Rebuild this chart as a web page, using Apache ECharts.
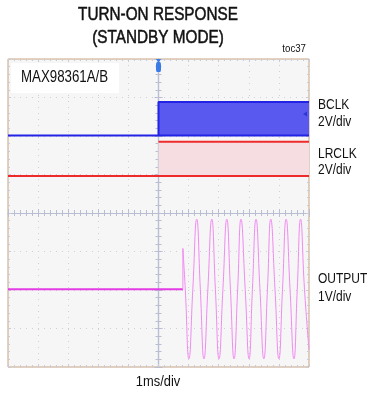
<!DOCTYPE html>
<html><head><meta charset="utf-8">
<script src="https://cdn.jsdelivr.net/npm/echarts@6/dist/echarts.min.js"></script>
<style>html,body{margin:0;padding:0;background:#fff}#c{width:367px;height:394px}</style>
</head><body><div id="c"></div>
<script>
// Scope screen: 10 horizontal divisions (1 ms/div), 8 vertical divisions; coordinates relative to screen centre
const FONT = "'Liberation Sans',Arial,sans-serif";
const xRange = [-5, 5];
const yRange = [-4, 4];

// BCLK (2V/div): idle low, then clock toggling (drawn as a filled band)
const bclkEdge = 0;
const bclkLow = 2.01;
const bclkHigh = 2.88;
// LRCLK (2V/div)
const lrclkEdge = 0;
const lrclkLow = 0.96;
const lrclkHigh = 1.85;
// OUTPUT (1V/div): flat until start, then sine
const outFlatX = [-5, 0.81];
const outFlatY = [-1.98, -1.98];
const outJumpY = -0.92;
const sineX = [0.81, 0.89, 1.01, 1.14, 1.27, 1.39, 1.51, 1.64, 1.77, 1.89, 2.01, 2.14, 2.27, 2.39, 2.51, 2.63, 2.74, 2.88, 3.01, 3.12, 3.24, 3.37, 3.50, 3.62, 3.73, 3.87, 4.00, 4.12, 4.24, 4.37, 4.50, 4.61, 4.72, 4.85, 5.00];
const sineY = [-0.92, -1.98, -3.79, -1.98, -0.16, -1.98, -3.79, -1.98, -0.16, -1.98, -3.79, -1.98, -0.16, -1.98, -3.79, -1.98, -0.16, -1.98, -3.79, -1.98, -0.16, -1.98, -3.79, -1.98, -0.16, -1.98, -3.79, -1.98, -0.16, -1.98, -3.79, -1.98, -0.16, -1.98, -3.55];

const zip = (a, b) => a.map((v, i) => [v, b[i]]);

const chart = echarts.init(document.getElementById('c'), null, {renderer: 'canvas'});
const gridRect = {left: 8, top: 59, width: 301, height: 308};
const tickColor = '#c9cbd6';
const centerColor = '#b9bed3';

function edgeAxis(pos, isX) {
  return {
    type: 'value', gridIndex: 0, position: pos,
    min: isX ? xRange[0] : yRange[0], max: isX ? xRange[1] : yRange[1], interval: 1,
    axisLine: {show: false, onZero: false},
    axisTick: {show: true, inside: true, length: 3, lineStyle: {color: tickColor}},
    minorTick: {show: true, splitNumber: 5, length: 2, lineStyle: {color: tickColor}},
    axisLabel: {show: false},
    splitLine: {show: pos === 'bottom' || pos === 'left', lineStyle: {color: '#cfd0d6', type: [1, 5], width: 1}}
  };
}
function centerAxis(pos, isX) {
  return {
    type: 'value', gridIndex: 1, position: pos,
    min: isX ? xRange[0] : yRange[0], max: isX ? xRange[1] : yRange[1], interval: 1,
    axisLine: {show: true, onZero: true, lineStyle: {color: centerColor, width: 1.2}},
    axisTick: {show: true, inside: true, length: 4, lineStyle: {color: centerColor}},
    minorTick: {show: true, splitNumber: 5, length: 3, lineStyle: {color: centerColor}},
    axisLabel: {show: false},
    splitLine: {show: false}
  };
}
function label(text, x, y, size, sx, align, strokeW) {
  const style = {text: text, font: size + 'px ' + FONT, fill: '#111', textAlign: align || 'left', textVerticalAlign: 'middle'};
  if (strokeW) { style.stroke = '#111'; style.lineWidth = strokeW; }
  return {type: 'text', x: x, y: y, scaleX: sx, z: 11, style: style};
}

const option = {
  animation: false,
  backgroundColor: '#ffffff',
  grid: [
    Object.assign({show: true, backgroundColor: '#f6f6f6', borderColor: '#c9a27f', borderWidth: 1}, gridRect),
    Object.assign({show: false}, gridRect)
  ],
  xAxis: [edgeAxis('bottom', true), edgeAxis('top', true), centerAxis('bottom', true), centerAxis('top', true)],
  yAxis: [edgeAxis('left', false), edgeAxis('right', false), centerAxis('left', false), centerAxis('right', false)],
  series: [
    {
      name: 'BCLK', type: 'line', xAxisIndex: 0, yAxisIndex: 0, symbol: 'none', z: 5,
      lineStyle: {color: '#2323e6', width: 2},
      data: [[xRange[0], bclkLow], [bclkEdge, bclkLow], [bclkEdge, bclkHigh], [xRange[1], bclkHigh]],
      markArea: {silent: true, itemStyle: {color: '#5959f0'}, data: [[{coord: [bclkEdge, bclkLow]}, {coord: [xRange[1], bclkHigh]}]]},
      markPoint: {
        silent: true, label: {show: false},
        data: [
          {coord: [0, yRange[1]], symbol: 'roundRect', symbolSize: [5, 10], symbolOffset: [0, 8], itemStyle: {color: '#3a7be6'}},
          {coord: [0, yRange[1]], symbol: 'triangle', symbolRotate: 180, symbolSize: [5, 4], symbolOffset: [0, 2], itemStyle: {color: '#3a7be6'}},
          {coord: [xRange[1], 2.57], symbol: 'triangle', symbolRotate: 90, symbolSize: [5, 4], symbolOffset: [-4, 0], itemStyle: {color: '#2a3ad0'}}
        ]
      }
    },
    {
      name: 'BCLK low', type: 'line', xAxisIndex: 0, yAxisIndex: 0, symbol: 'none', z: 5,
      lineStyle: {color: '#2323e6', width: 2},
      data: [[bclkEdge, bclkLow], [xRange[1], bclkLow]]
    },
    {
      name: 'LRCLK', type: 'line', xAxisIndex: 0, yAxisIndex: 0, symbol: 'none', z: 5,
      lineStyle: {color: '#ee2a2a', width: 2},
      data: [[xRange[0], lrclkLow], [xRange[1], lrclkLow]],
      markArea: {silent: true, itemStyle: {color: '#f6dde1'}, data: [[{coord: [lrclkEdge, lrclkLow]}, {coord: [xRange[1], lrclkHigh]}]]}
    },
    {
      name: 'LRCLK high', type: 'line', xAxisIndex: 0, yAxisIndex: 0, symbol: 'none', z: 5,
      lineStyle: {color: '#ee2a2a', width: 2},
      data: [[lrclkEdge, lrclkHigh], [xRange[1], lrclkHigh]]
    },
    {
      name: 'OUTPUT idle', type: 'line', xAxisIndex: 0, yAxisIndex: 0, symbol: 'none', z: 5,
      lineStyle: {color: '#e43ce4', width: 2.2},
      data: zip(outFlatX, outFlatY)
    },
    {
      name: 'OUTPUT jump', type: 'line', xAxisIndex: 0, yAxisIndex: 0, symbol: 'none', z: 5,
      lineStyle: {color: '#f28af2', width: 1},
      data: [[outFlatX[1], outFlatY[1]], [outFlatX[1], outJumpY]]
    },
    {
      name: 'OUTPUT', type: 'line', xAxisIndex: 0, yAxisIndex: 0, symbol: 'none', z: 5, smooth: 0.5,
      lineStyle: {color: '#f28af2', width: 1},
      data: zip(sineX, sineY)
    }
  ],
  graphic: [
    {type: 'rect', shape: {x: 11, y: 63, width: 108, height: 30}, style: {fill: '#ffffff'}, z: 10},
    label('MAX98361A/B', 21, 78, 16, 0.83),
    label('TURN-ON RESPONSE', 158, 15, 18, 0.85, 'center', 0.5),
    label('(STANDBY MODE)', 158, 38, 18, 0.85, 'center', 0.5),
    label('toc37', 306, 49, 11, 0.88, 'right'),
    label('BCLK', 318, 105, 15, 0.8),
    label('2V/div', 318, 122, 15, 0.8),
    label('LRCLK', 318, 154, 15, 0.8),
    label('2V/div', 318, 170, 15, 0.8),
    label('OUTPUT', 318, 279, 15, 0.8),
    label('1V/div', 318, 297, 15, 0.8),
    label('1ms/div', 158, 382, 15, 0.86, 'center')
  ]
};
chart.setOption(option);
</script></body></html>
